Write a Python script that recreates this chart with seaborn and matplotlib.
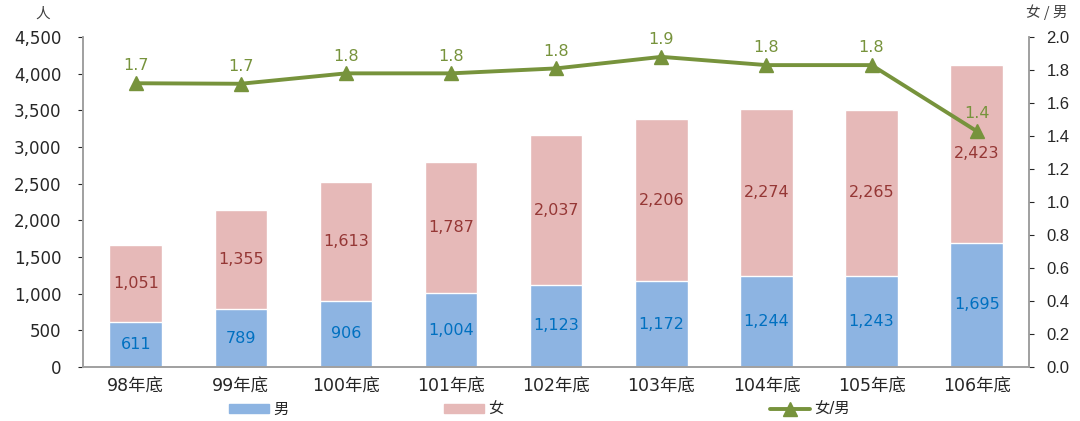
import numpy as np
import pandas as pd
import matplotlib.pyplot as plt
import seaborn as sns
from matplotlib.lines import Line2D
from matplotlib.patches import Patch

sns.set_style("white")
plt.rcParams['font.family'] = ['DejaVu Sans', 'Noto Sans CJK TC']

years = ['98年底', '99年底', '100年底', '101年底', '102年底', '103年底', '104年底', '105年底', '106年底']
male = [611, 789, 906, 1004, 1123, 1172, 1244, 1243, 1695]
female = [1051, 1355, 1613, 1787, 2037, 2206, 2274, 2265, 2423]
ratio = [1.72, 1.717, 1.78, 1.78, 1.81, 1.88, 1.83, 1.83, 1.43]
ratio_labels = ['1.7', '1.7', '1.8', '1.8', '1.8', '1.9', '1.8', '1.8', '1.4']

blue = '#8DB4E2'
pink = '#E6B9B8'
green = '#77933C'

df = pd.DataFrame({'year': years, 'male': male, 'female': female,
                   'total': np.array(male) + np.array(female)})

fig, ax = plt.subplots(figsize=(10.8, 4.21), dpi=100)
fig.subplots_adjust(left=0.077, right=0.953, top=0.912, bottom=0.128)

# stacked bars: totals in pink, then male drawn over in blue
sns.barplot(data=df, x='year', y='total', color=pink, width=0.5, saturation=1, ax=ax)
sns.barplot(data=df, x='year', y='male', color=blue, width=0.5, saturation=1, ax=ax)

for i in range(len(years)):
    ax.text(i, male[i] / 2, f'{male[i]:,}', ha='center', va='center', fontsize=11.5, color='#0070C0')
    ax.text(i, male[i] + female[i] / 2, f'{female[i]:,}', ha='center', va='center', fontsize=11.5, color='#953735')

ax.set_ylim(0, 4500)
ax.set_xlim(-0.5, len(years) - 0.5)
ax.set_yticks(range(0, 4501, 500))
ax.set_yticklabels([f'{v:,}' for v in range(0, 4501, 500)], fontsize=12)
ax.tick_params(axis='x', labelsize=12.5, pad=4)
ax.tick_params(axis='y', pad=12)
ax.set_xlabel('')
ax.set_ylabel('')
ax.text(-0.05, 1.06, '人', transform=ax.transAxes, fontsize=10.5, color='#404040',
        family=['Noto Sans CJK TC'])

ax2 = ax.twinx()
ax2.plot(range(len(years)), ratio, color=green, linewidth=2.8, marker='^', markersize=10)
for i in range(len(years)):
    ax2.text(i, ratio[i] + 0.105, ratio_labels[i], ha='center', va='center', fontsize=11.5, color=green)
ax2.set_ylim(0, 2.0)
ax2.set_yticks(np.arange(0, 2.01, 0.2))
ax2.set_yticklabels([f'{v:.1f}' for v in np.arange(0, 2.01, 0.2)], fontsize=12,
                    family=['Liberation Sans'])
ax2.tick_params(axis='y', pad=9)
ax2.text(-0.003, 1.06, '女 / 男', transform=ax2.transAxes, fontsize=10.5, color='#404040',
         family=['Noto Sans CJK TC'], ha='left')
ax2.texts[-1].set_position((0.997, 1.06))

for a in (ax, ax2):
    a.spines['top'].set_visible(False)
    for s in ('left', 'right', 'bottom'):
        a.spines[s].set_color('#A0A0A0')
        a.spines[s].set_linewidth(1.2)

# legend entries placed separately, spread like the original
handles = [Patch(color=blue, label='男'), Patch(color=pink, label='女'),
           Line2D([], [], color=green, linewidth=2.8, marker='^', markersize=10, label='女/男')]
xpos = [0.205, 0.404, 0.706]
for h, x in zip(handles, xpos):
    fig.legend(handles=[h], loc='center left', frameon=False, fontsize=11,
               bbox_to_anchor=(x, 0.027), handlelength=2.6, handleheight=0.55,
               handletextpad=0.3, borderpad=0)

fig.savefig('out.png', dpi=100)
